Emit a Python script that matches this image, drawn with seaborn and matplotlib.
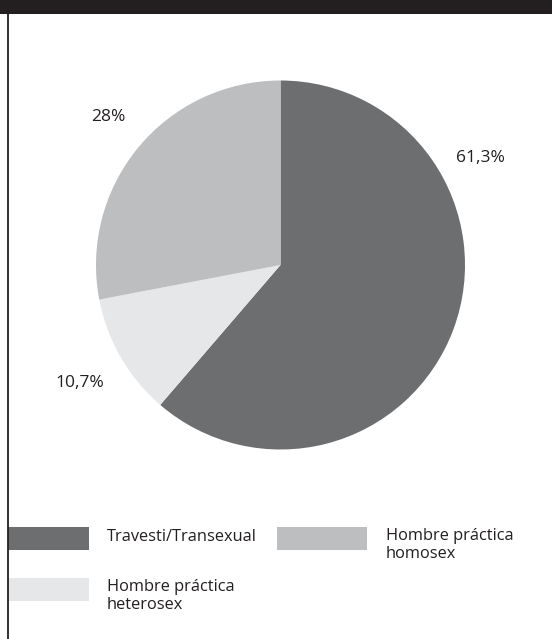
import matplotlib
matplotlib.use("Agg")
import matplotlib.pyplot as plt
from matplotlib.patches import Rectangle
import seaborn as sns

# ---- data ----
categories = ["Travesti/Transexual", "Hombre práctica heterosex", "Hombre práctica homosex"]
values = [61.3, 10.7, 28.0]
value_labels = ["61,3%", "10,7%", "28%"]
legend_labels = ["Travesti/Transexual", "Hombre práctica\nhomosex", "Hombre práctica\nheterosex"]

# ---- styles ----
colors = ["#6d6e70", "#e6e7e8", "#bcbec0"]
text_color = "#231f20"

sns.set_theme(style="white")
plt.rcParams['font.family'] = ['Open Sans', 'DejaVu Sans']

W, H = 552, 639
fig = plt.figure(figsize=(W / 100, H / 100), dpi=100)
fig.patch.set_facecolor("white")

cx, cy, r = 280.5, 265.0, 184.5
ax = fig.add_axes([(cx - r) / W, 1 - (cy + r) / H, 2 * r / W, 2 * r / H])
wedges, _ = ax.pie(values, colors=colors, startangle=90, counterclock=False,
                   wedgeprops=dict(linewidth=0))
ax.set_xlim(-1, 1)
ax.set_ylim(-1, 1)
ax.set_aspect("equal")
ax.axis("off")

# label positions (layout, in pie radius units)
label_pos = [(1.081, 0.58), (-1.087, -0.64), (-0.935, 0.802)]
for txt, (lx, ly) in zip(value_labels, label_pos):
    ax.text(lx, ly, txt, ha="center", va="center", fontsize=12.5,
            color=text_color, clip_on=False)

# top band and left border
fig.add_artist(Rectangle((0, 1 - 14 / H), 1, 14 / H, transform=fig.transFigure,
                         facecolor="#231f20", edgecolor="none"))
fig.add_artist(plt.Line2D([8 / W, 8 / W], [0, 1 - 14 / H], transform=fig.transFigure,
                          color="#231f20", linewidth=1.3))

# legend (manual layout): color index, rect (x, y, w), text (x, y)
legend_items = [
    (0, (8, 527, 81), (107, 537)),    # Travesti
    (2, (277, 527, 90), (386, 528)),  # homosex
    (1, (8, 578, 81), (107, 579)),    # heterosex
]
for (ci, (rx, ry, rw), (tx, ty)), lab in zip(legend_items, legend_labels):
    fig.add_artist(Rectangle((rx / W, 1 - (ry + 23) / H), rw / W, 23 / H,
                             transform=fig.transFigure, facecolor=colors[ci],
                             edgecolor="none"))
    va = "center" if "\n" not in lab else "top"
    fig.text(tx / W, 1 - ty / H, lab, ha="left", va=va, fontsize=11.8,
             color=text_color, linespacing=1.15)

fig.savefig("out.png", dpi=100, facecolor="white")
